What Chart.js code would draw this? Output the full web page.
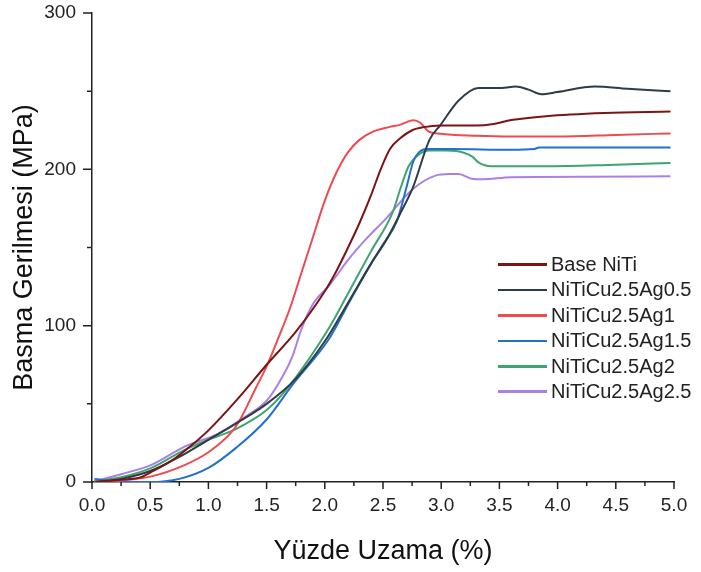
<!DOCTYPE html>
<html>
<head>
<meta charset="utf-8">
<script src="https://cdn.jsdelivr.net/npm/chart.js@4"></script>
<style>
    body { margin: 0; background: #fff; }
    #wrap { position: relative; width: 701px; height: 572px; }
    #legend { position: absolute; left: 498px; top: 252px; font-family: "Liberation Sans", Arial, sans-serif; font-size: 20px; color: #222; }
    .row { display: flex; align-items: center; height: 25.4px; line-height: 25.4px; white-space: nowrap; }
    .swatch { width: 49px; height: 2.5px; margin-right: 4px; }
</style>
</head>
<body>
<div id="wrap">
    <canvas id="chart" width="701" height="572"></canvas>
    <div id="legend"></div>
</div>
<script>
// series names + colours
const seriesNames = ["Base NiTi", "NiTiCu2.5Ag0.5", "NiTiCu2.5Ag1", "NiTiCu2.5Ag1.5", "NiTiCu2.5Ag2", "NiTiCu2.5Ag2.5"];
const seriesColors = ["#7b1515", "#2f3b45", "#ee4b4f", "#2470d0", "#3fa56e", "#a980e6"];

// strain (%) and stress (MPa)
const baseX = [0.03, 0.25, 0.42, 0.5, 0.71, 0.88, 1.0, 1.25, 1.5, 1.75, 2.0, 2.1, 2.2, 2.3, 2.4, 2.48, 2.56, 2.65, 2.75, 2.85, 3.0, 3.3, 3.45, 3.6, 3.9, 4.4, 4.97];
const baseY = [0, 1.5, 3, 6, 15, 25, 33, 53, 75, 96, 122, 135, 150, 166, 184, 200, 213, 220, 225, 227, 228, 228, 229, 231.5, 234, 236, 237];

const ag05X = [0.03, 0.25, 0.5, 0.75, 1.0, 1.25, 1.5, 1.75, 2.0, 2.21, 2.4, 2.53, 2.65, 2.76, 2.9, 2.99, 3.15, 3.32, 3.52, 3.64, 3.75, 3.86, 4.0, 4.32, 4.6, 4.97];
const ag05Y = [0, 2, 7, 16, 27, 38, 50, 66, 90, 116, 140, 155, 172, 189, 219, 228, 244, 252, 252, 253, 251, 248, 249.5, 253, 251.5, 250];

const ag1X = [0.03, 0.25, 0.51, 0.8, 1.0, 1.2, 1.28, 1.4, 1.5, 1.6, 1.7, 1.8, 1.9, 2.0, 2.1, 2.2, 2.3, 2.41, 2.55, 2.65, 2.76, 2.82, 2.89, 2.99, 3.3, 3.6, 4.0, 4.5, 4.97];
const ag1Y = [0, 1, 3.6, 11, 19, 32, 41, 59, 74, 92, 111, 134, 157, 180, 198, 211, 219, 224, 227, 228.6, 231.4, 229.8, 224.3, 222.8, 221.5, 221, 221, 222, 223];

const ag15X = [0.02, 0.2, 0.5, 0.75, 1.0, 1.24, 1.5, 1.72, 2.04, 2.21, 2.4, 2.5, 2.62, 2.7, 2.76, 2.81, 2.88, 3.09, 3.6, 3.8, 3.84, 4.97];
const ag15Y = [2, 0.5, 0, 2, 9, 22, 40, 62, 92, 115, 140, 152, 167, 188, 205, 211, 213, 213, 212.5, 213, 214, 214];

const ag2X = [0.02, 0.25, 0.51, 0.8, 1.0, 1.24, 1.5, 1.7, 2.04, 2.21, 2.4, 2.58, 2.66, 2.72, 2.8, 2.9, 3.04, 3.2, 3.27, 3.32, 3.43, 3.9, 4.5, 4.97];
const ag2Y = [0.5, 3, 9, 20.7, 27, 34, 46, 62, 99, 122, 148, 172, 190, 202, 209, 212, 212, 210.5, 208, 204.5, 202, 202, 203, 204];

const ag25X = [0.02, 0.25, 0.51, 0.8, 1.085, 1.28, 1.5, 1.61, 1.72, 1.8, 1.9, 2.04, 2.21, 2.35, 2.52, 2.75, 2.95, 3.07, 3.15, 3.26, 3.35, 3.6, 4.97];
const ag25Y = [0.5, 5, 11, 22.8, 31, 40, 52, 64, 80, 98, 114, 126, 143, 155, 168, 187, 196, 197, 197, 194, 193.6, 195, 195.5];

const xTicks = [0, 0.5, 1, 1.5, 2, 2.5, 3, 3.5, 4, 4.5, 5];
const yTicks = [0, 100, 200, 300];

const FONT = '"Liberation Sans", Arial, sans-serif';
const allX = [baseX, ag05X, ag1X, ag15X, ag2X, ag25X];
const allY = [baseY, ag05Y, ag1Y, ag15Y, ag2Y, ag25Y];

const datasets = seriesNames.map((name, i) => ({
    label: name,
    data: allX[i].map((x, j) => ({ x, y: allY[i][j] })),
    borderColor: seriesColors[i],
    backgroundColor: seriesColors[i],
    borderWidth: 2,
    pointRadius: 0,
    showLine: true,
    cubicInterpolationMode: 'monotone',
}));

// major / minor tick marks drawn outward from the axes
const tickMarks = {
    id: 'tickMarks',
    afterDraw(chart) {
        const { ctx, scales: { x, y } } = chart;
        ctx.save();
        ctx.strokeStyle = '#222';
        ctx.lineWidth = 1.5;
        ctx.beginPath();
        for (let v = 0; v <= 5.001; v += 0.25) {
            let px = x.getPixelForValue(v);
            let len = Math.abs(v * 2 - Math.round(v * 2)) < 1e-6 ? 7 : 4;
            ctx.moveTo(px, y.bottom);
            ctx.lineTo(px, y.bottom + len);
        }
        for (let v = 0; v <= 300; v += 50) {
            let py = y.getPixelForValue(v);
            let len = v % 100 === 0 ? 9 : 5;
            ctx.moveTo(x.left, py);
            ctx.lineTo(x.left - len, py);
        }
        ctx.stroke();
        ctx.restore();
    }
};

new Chart(document.getElementById('chart'), {
    type: 'scatter',
    data: { datasets },
    options: {
        responsive: false,
        animation: false,
        layout: { padding: { top: 0, right: 27, left: 0, bottom: 0 } },
        plugins: { legend: { display: false }, tooltip: { enabled: false } },
        scales: {
            x: {
                type: 'linear', min: 0, max: 5,
                afterFit: s => { s.height = 90; },
                afterBuildTicks: s => { s.ticks = xTicks.map(value => ({ value })); },
                ticks: { callback: v => v.toFixed(1), font: { family: FONT, size: 19 }, color: '#222', padding: 12, maxRotation: 0 },
                grid: { display: false, drawTicks: false },
                border: { display: true, color: '#222', width: 1.5 },
                title: { display: true, text: 'Yüzde Uzama (%)', font: { family: FONT, size: 27 }, color: '#111', padding: { top: 0, bottom: 4 } },
            },
            y: {
                type: 'linear', min: 0, max: 300,
                afterFit: s => { s.width = 92; s.paddingTop = 13; s.paddingBottom = 0; },
                afterBuildTicks: s => { s.ticks = yTicks.map(value => ({ value })); },
                ticks: { font: { family: FONT, size: 19 }, color: '#222', padding: 16 },
                grid: { display: false, drawTicks: false },
                border: { display: true, color: '#222', width: 1.5 },
                title: { display: true, text: 'Basma Gerilmesi (MPa)', font: { family: FONT, size: 27 }, color: '#111', padding: { top: 8, bottom: 0 } },
            },
        },
    },
    plugins: [tickMarks],
});

// legend inside the plot, built from the same series
const legend = document.getElementById('legend');
seriesNames.forEach((name, i) => {
    let row = document.createElement('div');
    row.className = 'row';
    row.innerHTML = `<span class="swatch" style="background:${seriesColors[i]}"></span><span>${name}</span>`;
    legend.appendChild(row);
});
</script>
</body>
</html>
